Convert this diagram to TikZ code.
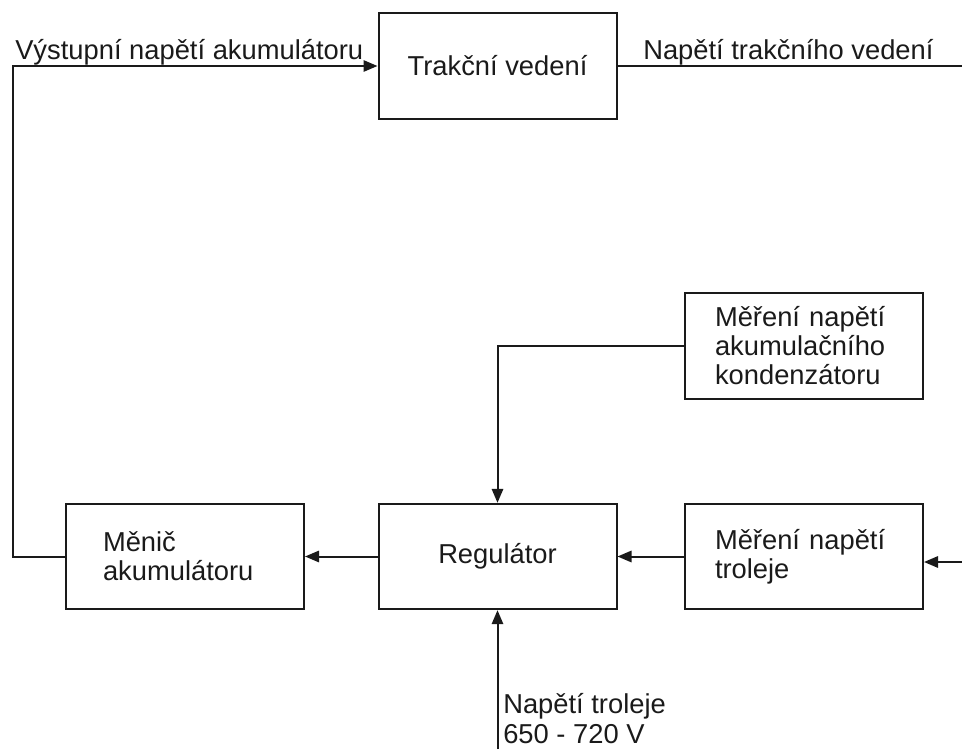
\documentclass[tikz,border=0pt]{standalone}
\usepackage{fontspec}
\setmainfont{Liberation Sans}
\usetikzlibrary{arrows.meta}
\definecolor{ink}{HTML}{1A1A1A}
\begin{document}
\begin{tikzpicture}[x=0.75pt,y=-0.75pt,
  every node/.style={font=\fontsize{20.5}{21.75}\selectfont, text=ink},
  blk/.style={draw=ink, line width=1.5pt, minimum width=178.5pt, minimum height=79pt, inner ysep=0pt},
  lbox/.style={blk, align=left, inner xsep=22.5pt, text width=133.5pt},
  cbox/.style={blk, align=center},
  wire/.style={draw=ink, line width=1.5pt},
  arr/.style={wire, -{Triangle[length=10.5pt,width=8.5pt]}},
  lbl/.style={anchor=base west, inner sep=0pt}]
\useasboundingbox (0,0) rectangle (962,749);

\node[cbox] (trak) at (497.5,66) {Trakční vedení};
\node[lbox] (mak) at (804,346) {Měření napětí\\akumulačního\\kondenzátoru};
\node[blk, align=left, inner xsep=27.75pt, text width=123pt] (men) at (185,556.5) {Měnič\\akumulátoru};
\node[cbox] (reg) at (497.5,556.5) {Regulátor};
\node[lbox] (mtr) at (804,556.5) {Měření napětí\\troleje};

\coordinate (rtop) at (962,66);
\coordinate (rmid) at (962,562);
\coordinate (bot) at (497.5,749);

\draw[arr] (men.west) -- ++(-52,0) |- (trak.west);
\draw[wire] (trak.east) -- (rtop);
\draw[arr] (mak.west) -| (reg.north);
\draw[arr] (reg.west) -- (men.east);
\draw[arr] (mtr.west) -- (reg.east);
\draw[arr] (rmid) -- (mtr.east |- rmid);
\draw[arr] (bot) -- (reg.south);

\node[lbl] (l1) at (15,60) {Výstupní napětí akumulátoru};
\node[lbl] (l2) at (643,60) {Napětí trakčního vedení};
\node[lbl] (l3) at (503,713) {Napětí troleje};
\node[lbl] (l4) at (503,743) {650 - 720 V};
\end{tikzpicture}
\end{document}
